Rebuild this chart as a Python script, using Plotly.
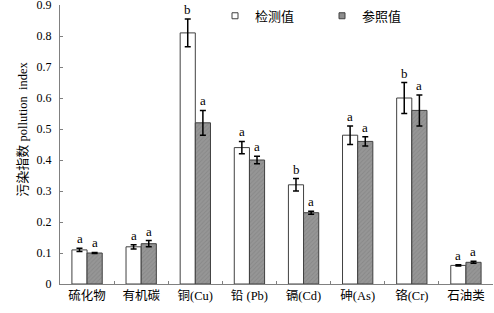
import plotly.graph_objects as go

categories = ["硫化物", "有机碳", "铜(Cu)", "铅 (Pb)", "镉(Cd)", "砷(As)", "铬(Cr)", "石油类"]
measured = [0.11, 0.12, 0.81, 0.44, 0.32, 0.48, 0.60, 0.06]
measured_err = [0.005, 0.007, 0.045, 0.02, 0.02, 0.03, 0.05, 0.002]
reference = [0.10, 0.13, 0.52, 0.40, 0.23, 0.46, 0.56, 0.07]
reference_err = [0.002, 0.01, 0.04, 0.012, 0.005, 0.015, 0.05, 0.003]
measured_letters = ["a", "a", "b", "a", "b", "a", "b", "a"]
reference_letters = ["a", "a", "a", "a", "a", "a", "a", "a"]
y_ticks = [0, 0.1, 0.2, 0.3, 0.4, 0.5, 0.6, 0.7, 0.8, 0.9]
y_tick_text = ["0", "0.1", "0.2", "0.3", "0.4", "0.5", "0.6", "0.7", "0.8", "0.9"]
series_names = ["检测值", "参照值"]
y_title_cn = "污染指数"
y_title_en = "pollution&nbsp;&nbsp;index"

FONT = "Liberation Serif, Times New Roman, Noto Sans CJK SC, serif"
CJK = "Noto Sans CJK SC, sans-serif"
WHITE_FILL = "white"
GRAY_FILL = "#8e8e8e"
EDGE = "#404040"

fig = go.Figure()
fig.add_trace(go.Bar(
    x=categories, y=measured, name=series_names[0], showlegend=False,
    marker=dict(color=WHITE_FILL, line=dict(color=EDGE, width=1)),
    error_y=dict(type="data", array=measured_err, color="black", thickness=1.5, width=3),
))
fig.add_trace(go.Bar(
    x=categories, y=reference, name=series_names[1], showlegend=False,
    marker=dict(color=GRAY_FILL, line=dict(color=EDGE, width=1),
                pattern=dict(shape="/", fgcolor="#7a7a7a", bgcolor="#969696", size=3, solidity=0.3)),
    error_y=dict(type="data", array=reference_err, color="black", thickness=1.5, width=3),
))
# legend-only entries with small square keys
for name, fill in zip(series_names, [WHITE_FILL, GRAY_FILL]):
    fig.add_trace(go.Scatter(
        x=[None], y=[None], mode="markers", name=name, showlegend=True,
        marker=dict(symbol="square", size=6, color=fill, line=dict(color=EDGE, width=1)),
    ))

annotations = []
for i, c in enumerate(categories):
    annotations.append(dict(x=c, y=measured[i] + measured_err[i], xref="x", yref="y",
                            text=measured_letters[i], showarrow=False, xshift=-7.5,
                            yanchor="bottom", yshift=0, font=dict(family=FONT, size=13, color="black")))
    annotations.append(dict(x=c, y=reference[i] + reference_err[i], xref="x", yref="y",
                            text=reference_letters[i], showarrow=False, xshift=7.5,
                            yanchor="bottom", yshift=0, font=dict(family=FONT, size=13, color="black")))
annotations.append(dict(x=0, y=0.555, xref="paper", yref="paper", xshift=-47,
                        text=y_title_cn + "&nbsp;<span style='font-size:12.5px'>" + y_title_en + "</span>",
                        textangle=-90, showarrow=False, font=dict(family=FONT, size=13, color="black")))

fig.update_layout(
    width=494, height=313,
    margin=dict(l=60, r=1, t=5, b=29, autoexpand=False),
    paper_bgcolor="white", plot_bgcolor="white",
    barmode="group", bargap=0.44, bargroupgap=0,
    font=dict(family=FONT, size=13, color="black"),
    showlegend=True,
    legend=dict(orientation="h", x=0.358, y=1.015, xanchor="left", yanchor="top",
                font=dict(family=CJK, size=13, color="black"),
                itemwidth=30, entrywidth=62, bgcolor="rgba(0,0,0,0)", traceorder="normal"),
    annotations=annotations,
    xaxis=dict(showline=True, linecolor="#808080", linewidth=1, ticks="inside", ticklen=3,
               tickcolor="#808080", tickson="boundaries", showgrid=False, automargin=False,
               tickfont=dict(family=FONT, size=12.5)),
    yaxis=dict(range=[0, 0.9], tickvals=y_ticks, ticktext=y_tick_text, showline=True,
               linecolor="#808080", linewidth=1, ticks="inside", ticklen=3, tickcolor="#808080",
               showgrid=False, zeroline=False, automargin=False, ticklabelstandoff=5,
               ticklabeloverflow="allow", tickfont=dict(family=FONT, size=12)),
)

fig.write_html("out.html", config={"displayModeBar": False},
               post_script="document.body.style.margin='0';document.body.style.padding='0';")
